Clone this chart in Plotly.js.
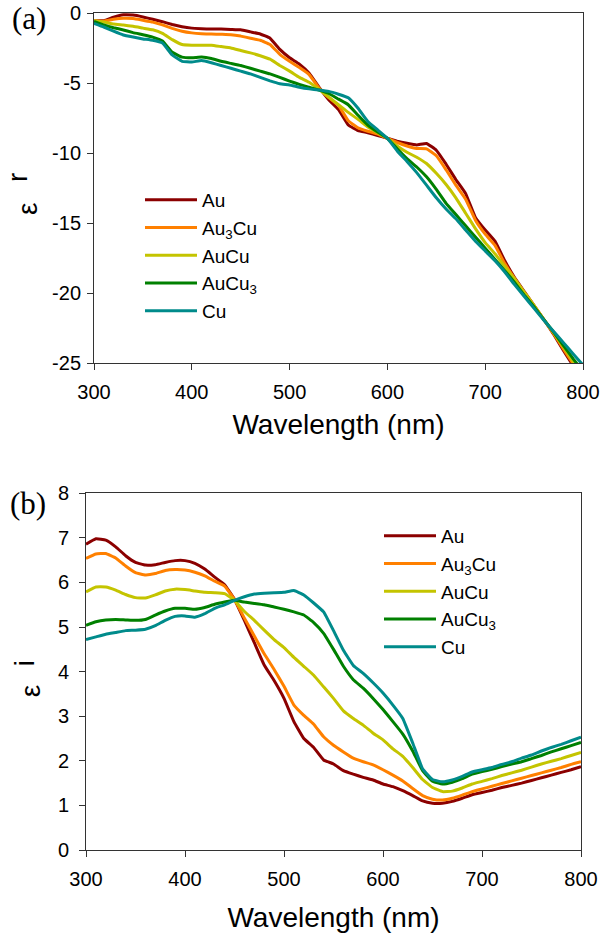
<!DOCTYPE html>
<html>
<head>
<meta charset="utf-8">
<script src="https://cdn.plot.ly/plotly-3.0.1.min.js"></script>
<style>
  body { margin: 0; background: #fff; }
  #myDiv { width: 600px; height: 933px; }
</style>
</head>
<body>
<div id="myDiv"></div>
<script>
var wavelength = [300, 310, 320, 330, 340, 350, 360, 370, 380, 390, 400, 410, 420, 430, 440, 450, 460, 470, 480, 490,
  500, 510, 520, 530, 540, 550, 560, 570, 580, 590, 600, 610, 620, 630, 640, 650, 660, 670, 680, 690,
  700, 710, 720, 730, 740, 750, 760, 770, 780, 790, 800];

var names = ["Au", "Au<sub>3</sub>Cu", "AuCu", "AuCu<sub>3</sub>", "Cu"];
var colors = ["#8b0000", "#ff8000", "#c4c400", "#008000", "#008b8b"];

// (a) real part
var epsRAu = [-0.55, -0.55, -0.3, -0.13, -0.15, -0.28, -0.45, -0.62, -0.82, -0.98, -1.08, -1.12, -1.15, -1.15, -1.17, -1.2, -1.35, -1.5, -1.8, -2.6,
  -3.2, -3.65, -4.3, -5.3, -6.2, -6.9, -8.0, -8.4, -8.55, -8.75, -8.95, -9.15, -9.3, -9.42, -9.32, -9.8, -10.8, -11.9, -12.9, -14.6,
  -15.5, -16.3, -17.7, -18.9, -19.9, -20.9, -21.9, -22.95, -24.1, -25.2, -26.3];
var epsRAu3Cu = [-0.55, -0.58, -0.45, -0.38, -0.4, -0.52, -0.65, -0.85, -1.1, -1.3, -1.42, -1.48, -1.5, -1.52, -1.55, -1.65, -1.8, -1.95, -2.25, -2.95,
  -3.45, -3.9, -4.4, -5.35, -6.05, -6.6, -7.7, -8.2, -8.45, -8.65, -8.95, -9.25, -9.5, -9.68, -9.7, -10.2, -11.2, -12.3, -13.3, -14.8,
  -15.8, -16.6, -17.9, -18.95, -19.95, -20.9, -21.9, -22.9, -24.0, -25.05, -26.1];
var epsRAuCu = [-0.55, -0.65, -0.78, -0.86, -0.95, -1.08, -1.2, -1.45, -1.9, -2.25, -2.3, -2.3, -2.3, -2.4, -2.5, -2.68, -2.85, -3.05, -3.3, -3.75,
  -4.15, -4.6, -4.95, -5.45, -6.0, -6.55, -7.1, -7.6, -8.15, -8.55, -8.95, -9.5, -9.95, -10.3, -10.75, -11.45, -12.25, -13.2, -14.3, -15.4,
  -16.4, -17.2, -18.1, -19.0, -19.95, -20.9, -21.9, -22.85, -23.85, -24.9, -25.9];
var epsRAuCu3 = [-0.6, -0.85, -1.05, -1.21, -1.4, -1.55, -1.72, -2.0, -2.8, -3.15, -3.2, -3.15, -3.25, -3.45, -3.6, -3.75, -3.95, -4.15, -4.35, -4.6,
  -4.86, -5.1, -5.3, -5.5, -5.75, -6.15, -6.55, -7.3, -8.0, -8.5, -8.95, -9.7, -10.4, -11.0, -11.7, -12.6, -13.6, -14.4, -15.2, -16.0,
  -16.8, -17.6, -18.4, -19.25, -20.15, -21.0, -21.9, -22.8, -23.75, -24.7, -25.6];
var epsRCu = [-0.74, -1.0, -1.3, -1.57, -1.72, -1.85, -1.95, -2.15, -3.0, -3.45, -3.5, -3.4, -3.55, -3.75, -3.95, -4.15, -4.35, -4.6, -4.85, -5.05,
  -5.14, -5.3, -5.42, -5.5, -5.6, -5.8, -6.05, -6.8, -7.75, -8.35, -8.95, -9.85, -10.6, -11.4, -12.3, -13.2, -14.0, -14.7, -15.5, -16.3,
  -17.0, -17.7, -18.5, -19.4, -20.25, -21.1, -21.95, -22.75, -23.55, -24.35, -25.15];

// (b) imaginary part
var epsIAu = [6.86, 6.98, 6.95, 6.8, 6.6, 6.45, 6.39, 6.4, 6.45, 6.49, 6.49, 6.43, 6.3, 6.12, 5.95, 5.62, 5.15, 4.65, 4.15, 3.8,
  3.4, 2.88, 2.5, 2.3, 2.02, 1.93, 1.78, 1.7, 1.63, 1.57, 1.48, 1.42, 1.33, 1.22, 1.1, 1.05, 1.05, 1.09, 1.16, 1.24,
  1.29, 1.34, 1.4, 1.45, 1.5, 1.56, 1.62, 1.68, 1.74, 1.8, 1.87];
var epsIAu3Cu = [6.54, 6.64, 6.65, 6.55, 6.37, 6.22, 6.17, 6.2, 6.27, 6.29, 6.28, 6.23, 6.15, 6.03, 5.92, 5.62, 5.2, 4.8, 4.4, 4.05,
  3.67, 3.25, 3.02, 2.82, 2.54, 2.35, 2.2, 2.06, 1.98, 1.91, 1.8, 1.68, 1.55, 1.38, 1.22, 1.14, 1.12, 1.16, 1.23, 1.31,
  1.37, 1.43, 1.49, 1.55, 1.61, 1.67, 1.73, 1.79, 1.85, 1.92, 1.98];
var epsIAuCu = [5.79, 5.9, 5.9, 5.83, 5.73, 5.66, 5.65, 5.72, 5.81, 5.85, 5.84, 5.81, 5.78, 5.77, 5.75, 5.6, 5.35, 5.15, 4.93, 4.72,
  4.54, 4.32, 4.12, 3.92, 3.66, 3.4, 3.12, 2.95, 2.8, 2.62, 2.47, 2.27, 2.1, 1.85, 1.58, 1.4, 1.31, 1.32, 1.39, 1.48,
  1.54, 1.6, 1.67, 1.73, 1.79, 1.86, 1.93, 1.99, 2.05, 2.12, 2.19];
var epsIAuCu3 = [5.04, 5.12, 5.16, 5.17, 5.16, 5.15, 5.17, 5.27, 5.36, 5.42, 5.42, 5.4, 5.44, 5.51, 5.56, 5.6, 5.56, 5.53, 5.5, 5.45,
  5.4, 5.34, 5.27, 5.1, 4.86, 4.5, 4.12, 3.82, 3.63, 3.4, 3.15, 2.88, 2.6, 2.22, 1.78, 1.54, 1.48, 1.52, 1.6, 1.7,
  1.76, 1.81, 1.87, 1.93, 1.98, 2.05, 2.12, 2.2, 2.27, 2.34, 2.41];
var epsICu = [4.72, 4.78, 4.84, 4.88, 4.92, 4.93, 4.95, 5.03, 5.15, 5.24, 5.25, 5.22, 5.3, 5.42, 5.5, 5.6, 5.68, 5.74, 5.76, 5.77,
  5.78, 5.82, 5.72, 5.54, 5.34, 4.92, 4.48, 4.14, 3.96, 3.75, 3.52, 3.25, 2.95, 2.4, 1.82, 1.58, 1.53, 1.57, 1.65, 1.75,
  1.8, 1.85, 1.92, 1.98, 2.06, 2.13, 2.22, 2.3, 2.37, 2.45, 2.53];

var xTicks = [300, 400, 500, 600, 700, 800];
var aTickVals = [0, -5, -10, -15, -20, -25];
var aTickText = ["0", "-5", "-10", "-15", "-20", "-25"];
var bTickVals = [0, 1, 2, 3, 4, 5, 6, 7, 8];

var seriesA = [epsRAu, epsRAu3Cu, epsRAuCu, epsRAuCu3, epsRCu];
var seriesB = [epsIAu, epsIAu3Cu, epsIAuCu, epsIAuCu3, epsICu];

var data = [];
seriesA.forEach(function(ys, i) {
  data.push({
    x: wavelength, y: ys, xaxis: "x", yaxis: "y",
    mode: "lines", line: {color: colors[i], width: 3, shape: "spline", smoothing: 0.3},
    name: names[i], legend: "legend", type: "scatter"
  });
});
seriesB.forEach(function(ys, i) {
  data.push({
    x: wavelength, y: ys, xaxis: "x2", yaxis: "y2",
    mode: "lines", line: {color: colors[i], width: 3, shape: "spline", smoothing: 0.3},
    name: names[i], legend: "legend2", type: "scatter"
  });
});

var font = {family: "Liberation Sans, Arial, sans-serif", size: 20, color: "#000"};
var legendFont = {family: font.family, size: 19, color: "#000"};
var serif = {family: "Liberation Serif, Times New Roman, serif", size: 31, color: "#000"};
var greek = {family: font.family, size: 28, color: "#000"};
var axisLine = "#333";

function mainX(dom, anchor, standoff) {
  return {
    domain: dom, anchor: anchor, range: [300, 800], tickvals: xTicks,
    showline: true, linecolor: axisLine, linewidth: 1, mirror: true,
    ticks: "outside", ticklen: 6, tickcolor: axisLine, showgrid: false, zeroline: false,
    tickfont: font, ticklabelstandoff: 5,
    title: {text: "Wavelength (nm)", font: {family: font.family, size: 28, color: "#000"}, standoff: standoff}
  };
}
function mainY(dom, anchor, range, vals, text, labelGap) {
  var ax = {
    domain: dom, anchor: anchor, range: range, tickvals: vals,
    showline: true, linecolor: axisLine, linewidth: 1, mirror: true,
    ticks: "outside", ticklen: 6, tickcolor: axisLine, showgrid: false, zeroline: false,
    tickfont: font, ticklabelstandoff: labelGap
  };
  if (text) ax.ticktext = text;
  return ax;
}
function innerX(over, anchor, dom) {
  return {overlaying: over, anchor: anchor, side: "top", domain: dom, range: [300, 800], tickvals: xTicks,
    ticks: "inside", ticklen: 6, tickcolor: axisLine, showticklabels: false, showline: false,
    showgrid: false, zeroline: false};
}
function innerY(over, anchor, range, vals, dom) {
  return {overlaying: over, anchor: anchor, side: "right", domain: dom, range: range, tickvals: vals,
    ticks: "inside", ticklen: 6, tickcolor: axisLine, showticklabels: false, showline: false,
    showgrid: false, zeroline: false};
}

function label(text, x, y, f, angle) {
  return {text: text, xref: "paper", yref: "paper", x: x / 600, y: 1 - y / 933,
    xanchor: "center", yanchor: "middle", showarrow: false, textangle: angle || 0, font: f};
}

var xDomA = [94 / 600, 583 / 600], yDomA = [570 / 933, 920 / 933];
var xDomB = [86 / 600, 581 / 600], yDomB = [83 / 933, 439.7 / 933];

var layout = {
  width: 600, height: 933,
  margin: {l: 0, r: 0, t: 0, b: 0},
  paper_bgcolor: "#fff", plot_bgcolor: "#fff",
  font: font,
  showlegend: true,
  xaxis: mainX(xDomA, "y", 12),
  yaxis: mainY(yDomA, "x", [-25, 0], aTickVals, aTickText, 2),
  xaxis2: mainX(xDomB, "y2", 22),
  yaxis2: mainY(yDomB, "x2", [0, 8], bTickVals, null, 6),
  xaxis3: innerX("x", "y", xDomA),
  yaxis3: innerY("y", "x", [-25, 0], aTickVals, yDomA),
  xaxis4: innerX("x2", "y2", xDomB),
  yaxis4: innerY("y2", "x2", [0, 8], bTickVals, yDomB),
  legend: {x: 140 / 600, xanchor: "left", y: 1 - 181 / 933, yanchor: "top",
    bgcolor: "rgba(0,0,0,0)", font: legendFont, itemwidth: 52, tracegroupgap: 0},
  legend2: {x: 379 / 600, xanchor: "left", y: 1 - 517 / 933, yanchor: "top",
    bgcolor: "rgba(0,0,0,0)", font: legendFont, itemwidth: 52, tracegroupgap: 0},
  annotations: [
    label("(a)", 29, 19, serif),
    label("(b)", 28, 503.5, serif),
    label("ε", 27, 209, greek, -90),
    label("r", 18, 178, greek, -90),
    label("ε", 30.5, 691.7, greek, -90),
    label("i", 24, 663.3, greek, -90)
  ]
};

Plotly.newPlot("myDiv", data, layout, {displayModeBar: false, staticPlot: true});
</script>
</body>
</html>
